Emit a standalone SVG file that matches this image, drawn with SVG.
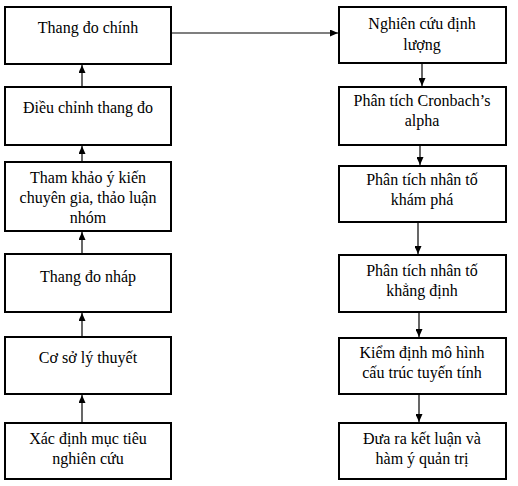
<svg xmlns="http://www.w3.org/2000/svg" width="518" height="486" viewBox="0 0 518 486">
<style>
.box{fill:#fff;stroke:#000;stroke-width:2}
.t{font-family:'Times New Roman','Liberation Serif','DejaVu Serif',serif;font-size:16px;fill:#000;text-anchor:middle}
.c{stroke:#000;stroke-width:1.2;fill:none;marker-end:url(#ah)}
</style>
<defs>
<marker id="ah" markerUnits="userSpaceOnUse" markerWidth="8" markerHeight="7" refX="8" refY="3.5" orient="auto">
<path d="M0,0 L8,3.5 L0,7 z" fill="#000"/>
</marker>
</defs>
<rect width="518" height="486" fill="#fff"/>
<g id="connectors">
<line class="c" x1="171" y1="33" x2="338" y2="33"/>
<line class="c" x1="82" y1="423" x2="82" y2="395"/>
<line class="c" x1="82" y1="337" x2="82" y2="313"/>
<line class="c" x1="82" y1="254" x2="82" y2="232"/>
<line class="c" x1="82" y1="162" x2="82" y2="146"/>
<line class="c" x1="82" y1="87" x2="82" y2="65"/>
<line class="c" x1="422" y1="63" x2="422" y2="86"/>
<line class="c" x1="420" y1="145" x2="420" y2="165"/>
<line class="c" x1="418" y1="222" x2="418" y2="254"/>
<line class="c" x1="419" y1="312" x2="419" y2="337"/>
<line class="c" x1="419" y1="394" x2="419" y2="422"/>
</g>
<g id="thang-do-chinh">
<rect class="box" x="5" y="7" width="166" height="57"/>
<text class="t" x="88" y="33">Thang đo chính</text>
</g>
<g id="dieu-chinh">
<rect class="box" x="5" y="87" width="166" height="58"/>
<text class="t" x="88" y="113">Điều chỉnh thang đo</text>
</g>
<g id="tham-khao">
<rect class="box" x="5" y="162" width="166" height="69"/>
<text class="t" x="88" y="183">Tham khảo ý kiến</text>
<text class="t" x="88" y="203">chuyên gia, thảo luận</text>
<text class="t" x="88" y="223">nhóm</text>
</g>
<g id="thang-do-nhap">
<rect class="box" x="5" y="254" width="166" height="58"/>
<text class="t" x="88" y="282">Thang đo nháp</text>
</g>
<g id="co-so">
<rect class="box" x="5" y="337" width="166" height="57"/>
<text class="t" x="88" y="363">Cơ sở lý thuyết</text>
</g>
<g id="xac-dinh">
<rect class="box" x="5" y="423" width="166" height="56"/>
<text class="t" x="88" y="444">Xác định mục tiêu</text>
<text class="t" x="88" y="464">nghiên cứu</text>
</g>
<g id="nghien-cuu">
<rect class="box" x="339" y="7" width="167" height="56"/>
<text class="t" x="422" y="29">Nghiên cứu định</text>
<text class="t" x="422" y="50">lượng</text>
</g>
<g id="cronbach">
<rect class="box" x="339" y="87" width="167" height="58"/>
<text class="t" x="422" y="106">Phân tích Cronbach’s</text>
<text class="t" x="422" y="126">alpha</text>
</g>
<g id="efa">
<rect class="box" x="339" y="166" width="167" height="56"/>
<text class="t" x="422" y="185">Phân tích nhân tố</text>
<text class="t" x="422" y="205">khám phá</text>
</g>
<g id="cfa">
<rect class="box" x="339" y="255" width="167" height="57"/>
<text class="t" x="422" y="276">Phân tích nhân tố</text>
<text class="t" x="422" y="296">khẳng định</text>
</g>
<g id="sem">
<rect class="box" x="339" y="338" width="167" height="56"/>
<text class="t" x="422" y="358">Kiểm định mô hình</text>
<text class="t" x="422" y="378">cấu trúc tuyến tính</text>
</g>
<g id="ket-luan">
<rect class="box" x="339" y="423" width="167" height="56"/>
<text class="t" x="422" y="444">Đưa ra kết luận và</text>
<text class="t" x="422" y="464">hàm ý quản trị</text>
</g>
</svg>
